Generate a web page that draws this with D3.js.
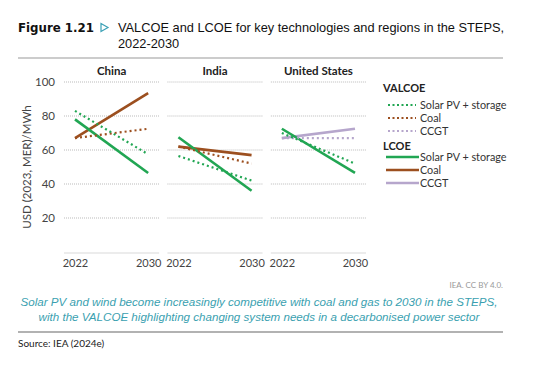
<!DOCTYPE html>
<html>
<head>
<meta charset="utf-8">
<script src="https://cdn.jsdelivr.net/npm/d3@7"></script>
<style>
  body { margin: 0; background: #fff; }
  svg { display: block; }
</style>
</head>
<body>
<svg id="chart" width="540" height="372"></svg>
<script>
// data
var regions = ["China", "India", "United States"];
var years = [2022, 2030];
var yTicks = [20, 40, 60, 80, 100];

var valcoeSolar = [[83, 57.5], [56.5, 42], [70, 52]];
var valcoeCoal  = [[67, 72.5], [62, 52], null];
var valcoeCcgt  = [null, null, [67, 67]];
var lcoeSolar   = [[78, 46.5], [67.5, 36], [72.5, 46.5]];
var lcoeCoal    = [[67, 93.5], [62, 57], null];
var lcoeCcgt    = [null, null, [67, 72.5]];

var green = "#21a653", brown = "#9c4f1f", lilac = "#b6a6cc";

var series = [
  {name: "Solar PV + storage", group: "VALCOE", vals: valcoeSolar, color: green, dash: true},
  {name: "Coal", group: "VALCOE", vals: valcoeCoal, color: brown, dash: true},
  {name: "CCGT", group: "VALCOE", vals: valcoeCcgt, color: lilac, dash: true},
  {name: "Solar PV + storage", group: "LCOE", vals: lcoeSolar, color: green, dash: false},
  {name: "Coal", group: "LCOE", vals: lcoeCoal, color: brown, dash: false},
  {name: "CCGT", group: "LCOE", vals: lcoeCcgt, color: lilac, dash: false}
];

var svg = d3.select("#chart");
var font = "Lato, 'Open Sans', sans-serif";

//Title
svg.append("text").attr("x", 18).attr("y", 32)
   .style("font-family", "'DejaVu Sans', sans-serif").style("font-weight", "bold")
   .style("font-size", "11.8px").attr("fill", "#111").text("Figure 1.21");
svg.append("path").attr("d", "M101,23.5 L108,27.5 L101,31.5 Z")
   .attr("fill", "none").attr("stroke", "#3aa0b5").attr("stroke-width", 1.2);
svg.append("text").attr("x", 118).attr("y", 32)
   .style("font-family", "'Liberation Sans', sans-serif").style("font-size", "12.8px")
   .attr("fill", "#111").text("VALCOE and LCOE for key technologies and regions in the STEPS,");
svg.append("text").attr("x", 118).attr("y", 48)
   .style("font-family", "'Liberation Sans', sans-serif").style("font-size", "12.8px")
   .attr("fill", "#111").text("2022-2030");
svg.append("line").attr("x1", 18).attr("x2", 503).attr("y1", 58).attr("y2", 58)
   .attr("stroke", "#999").attr("stroke-width", 1.2);

//Scales
var y = d3.scaleLinear().domain([0, 100]).range([252, 82]);
var panel = d3.scaleBand().domain(regions).range([64, 366]).paddingInner(0.08);

// y axis
var yAxis = svg.append("g").attr("transform", "translate(57,0)")
   .call(d3.axisLeft(y).tickValues(yTicks).tickSize(0).tickPadding(2));
yAxis.select(".domain").remove();
yAxis.selectAll("text").style("font-family", font).style("font-size", "11.5px").attr("fill", "#444");

svg.append("text")
   .attr("transform", "translate(31," + y(50) + ") rotate(-90)")
   .attr("text-anchor", "middle")
   .style("font-family", font).style("font-size", "11.5px").attr("fill", "#444")
   .text("USD (2023, MER)/MWh");

var line = d3.line();

regions.forEach(function(r, ri) {
  var x0 = panel(r), w = panel.bandwidth();
  var x = d3.scalePoint().domain(years).range([x0 + 11, x0 + w - 11]);
  var g = svg.append("g").attr("class", "panel");

  // grid
  g.selectAll("line.grid").data(yTicks).enter().append("line")
   .attr("class", "grid")
   .attr("x1", x0).attr("x2", x0 + w)
   .attr("y1", function(d) { return y(d); }).attr("y2", function(d) { return y(d); })
   .attr("stroke", "#aaa").attr("stroke-width", 0.8).attr("stroke-dasharray", "1,1");

  // baseline
  g.append("line").attr("x1", x0).attr("x2", x0 + w)
   .attr("y1", y(0) + 1).attr("y2", y(0) + 1)
   .attr("stroke", "#d9d9d9").attr("stroke-width", 1);

  // x labels
  var xa = g.append("g").attr("transform", "translate(0," + (y(0) + 1) + ")")
     .call(d3.axisBottom(x).tickSize(0).tickPadding(6));
  xa.select(".domain").remove();
  xa.selectAll("text").style("font-family", font).style("font-size", "11px").attr("fill", "#444");

  // region title
  g.append("text").attr("x", x0 + w / 2).attr("y", 75).attr("text-anchor", "middle")
   .style("font-family", font).style("font-weight", "bold").style("font-size", "11.5px")
   .attr("fill", "#222").text(r);

  // series lines (solid first, then dotted on top)
  var order = [5, 4, 3, 2, 1, 0];
  order.forEach(function(si) {
    var s = series[si];
    var v = s.vals[ri];
    if (!v) return;
    var pts = years.map(function(yr, i) { return [x(yr), y(v[i])]; });
    g.append("path").attr("d", line(pts))
     .attr("fill", "none").attr("stroke", s.color)
     .attr("stroke-width", s.dash ? 2.2 : 2.6)
     .attr("stroke-dasharray", s.dash ? "2,3" : null);
  });
});

//Legend
var lg = svg.append("g").attr("transform", "translate(383,0)");
var rowY = {VALCOE: [88, 105, 118, 131], LCOE: [146, 157, 170, 183]};
["VALCOE", "LCOE"].forEach(function(grp) {
  lg.append("text").attr("x", 0).attr("y", rowY[grp][0] + 4)
    .style("font-family", font).style("font-weight", "bold").style("font-size", "11px")
    .attr("fill", "#222").text(grp);
  series.filter(function(s) { return s.group === grp; }).forEach(function(s, i) {
    var yy = rowY[grp][i + 1];
    lg.append("line").attr("x1", grp === "VALCOE" ? 5 : 3).attr("x2", grp === "VALCOE" ? 33 : 36)
      .attr("y1", yy).attr("y2", yy)
      .attr("stroke", s.color).attr("stroke-width", s.dash ? 2 : 2.6)
      .attr("stroke-dasharray", s.dash ? "2,2.5" : null);
    lg.append("text").attr("x", 37).attr("y", yy + 4)
      .style("font-family", font).style("font-size", "10.8px").attr("fill", "#333")
      .text(s.name);
  });
});

//Footer
svg.append("text").attr("x", 503).attr("y", 288).attr("text-anchor", "end")
   .style("font-family", font).style("font-size", "8px").attr("fill", "#999")
   .text("IEA. CC BY 4.0.");
var capt = ["Solar PV and wind become increasingly competitive with coal and gas to 2030 in the STEPS,",
            "with the VALCOE highlighting changing system needs in a decarbonised power sector"];
svg.selectAll("text.caption").data(capt).enter().append("text")
   .attr("class", "caption")
   .attr("x", 259).attr("y", function(d, i) { return 306 + i * 15; })
   .attr("text-anchor", "middle")
   .style("font-family", "'Liberation Sans', sans-serif").style("font-style", "italic")
   .style("font-size", "11.6px").attr("fill", "#3a9fb0")
   .text(function(d) { return d; });
svg.append("line").attr("x1", 18).attr("x2", 503).attr("y1", 332).attr("y2", 332)
   .attr("stroke", "#999").attr("stroke-width", 1.5);
svg.append("text").attr("x", 18).attr("y", 347)
   .style("font-family", font).style("font-size", "10px").attr("fill", "#222")
   .text("Source: IEA (2024e)");
</script>
</body>
</html>
